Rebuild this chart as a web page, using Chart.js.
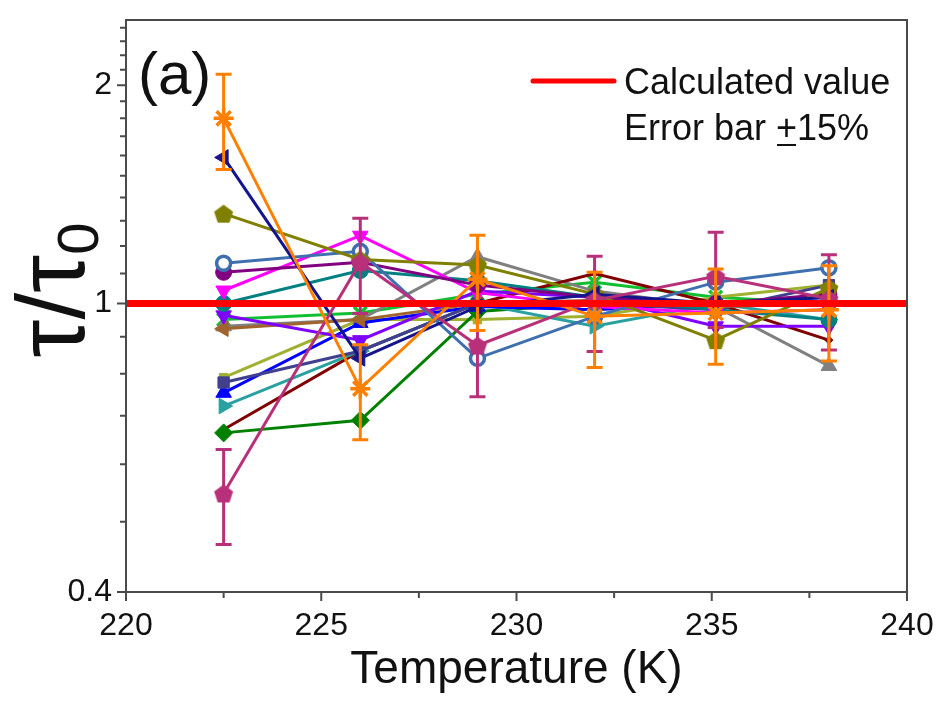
<!DOCTYPE html>
<html lang="en">
<head>
<meta charset="UTF-8">
<title>tau / tau0 vs temperature</title>
<script src="https://cdn.jsdelivr.net/npm/chart.js@4"></script>
<style>
    body { margin: 0; background: #fff; }
    #wrap { width: 936px; height: 701px; position: relative; }
</style>
</head>
<body>
<div id="wrap"><canvas id="chart"></canvas></div>

<script>
// temperatures (K) where the ratios were measured
const temps = [222.5, 226, 229, 232, 235.1, 238];

// tau / tau0 for each sample
const orangeStar   = [1.80, 0.763, 1.08, 0.96, 0.97, 0.98];
const pinkPentagon = [0.547, 1.14, 0.875, 1.01, 1.09, 1.015];
const navyLeft     = [1.59, 0.84, 0.99, 1.03, 1.00, 1.02];
const olivePent    = [1.33, 1.15, 1.13, 1.03, 0.89, 1.05];
const blueOpen     = [1.136, 1.18, 0.84, 0.96, 1.07, 1.12];
const purpleCircle = [1.104, 1.14, 1.06, 1.02, 1.00, 1.03];
const magentaDown  = [1.042, 1.24, 1.035, 0.99, 0.97, 0.98];
const tealCircle   = [1.0, 1.11, 1.075, 1.02, 0.98, 0.95];
const violetDown   = [0.963, 0.89, 1.04, 1.02, 0.93, 0.93];
const brownLeft    = [0.923, 0.95, 1.0, 1.01, 0.99, 1.0];
const slateSquare  = [0.778, 0.86, 1.0, 1.0, 0.98, 1.06];
const blueUp       = [0.753, 0.94, 0.99, 0.98, 1.0, 1.02];
const cyanRight    = [0.722, 0.86, 1.0, 0.93, 1.0, 0.95];
const greenDiamond = [0.663, 0.69, 0.975, 1.0, 1.0, 1.0];
const darkredLine  = [0.67, 0.86, 1.0, 1.10, 1.0, 0.89];
const grayUp       = [0.93, 0.95, 1.16, 1.04, 0.99, 0.82];
const ygreenLine   = [0.79, 0.95, 0.95, 0.96, 1.02, 1.06];
const limeCross    = [0.95, 0.97, 1.03, 1.07, 1.02, 1.0];

const calcLine = [1, 1];
const calcX = [220, 240];

const xTicks = [220, 225, 230, 235, 240];
const yTicks = [0.4, 1, 2];

const FONT = "'Liberation Sans', Arial, sans-serif";

function pentagon(color, r) {
    const c = document.createElement('canvas');
    c.width = c.height = r * 2 + 2;
    const g = c.getContext('2d');
    g.beginPath();
    for (let i = 0; i < 5; i++) {
        const a = -Math.PI / 2 + i * 2 * Math.PI / 5;
        const px = r + 1 + r * Math.cos(a), py = r + 1 + r * Math.sin(a) + 1;
        i ? g.lineTo(px, py) : g.moveTo(px, py);
    }
    g.closePath();
    g.fillStyle = color;
    g.fill();
    return c;
}

function series(vals, color, style, opts) {
    return Object.assign({
        data: temps.map((t, i) => ({ x: t, y: vals[i] })),
        borderColor: color,
        backgroundColor: color,
        pointBackgroundColor: color,
        pointBorderColor: color,
        borderWidth: 3,
        pointRadius: 8,
        pointHoverRadius: 8,
        pointBorderWidth: 1,
        pointStyle: style,
    }, opts || {});
}

const datasets = [
    {
        data: calcX.map((x, i) => ({ x: x, y: calcLine[i] })),
        borderColor: '#ff0000', borderWidth: 7, pointRadius: 0
    },
    series(orangeStar, '#ff8000', 'star', { errorBars: true, pointRadius: 10, pointBorderWidth: 3.5 }),
    series(pinkPentagon, '#b8307a', pentagon('#b8307a', 10), { errorBars: true }),
    series(navyLeft, '#14148c', 'triangle', { rotation: -90, pointRadius: 9 }),
    series(olivePent, '#808000', pentagon('#808000', 10)),
    series(blueOpen, '#3e6fae', 'circle', { pointBackgroundColor: '#ffffff', pointBorderWidth: 3.5, pointRadius: 7 }),
    series(purpleCircle, '#800080', 'circle'),
    series(magentaDown, '#ff00ff', 'triangle', { rotation: 180, pointRadius: 9 }),
    series(tealCircle, '#008080', 'circle'),
    series(violetDown, '#8000ff', 'triangle', { rotation: 180, pointRadius: 9 }),
    series(brownLeft, '#a0642d', 'triangle', { rotation: -90, pointRadius: 9 }),
    series(slateSquare, '#40408f', 'rect', { pointRadius: 8 }),
    series(blueUp, '#0000ff', 'triangle', { pointRadius: 9 }),
    series(cyanRight, '#2aa0a0', 'triangle', { rotation: 90, pointRadius: 9 }),
    series(greenDiamond, '#008000', 'rectRot', { pointRadius: 9 }),
    series(darkredLine, '#800000', 'rectRot', { pointRadius: 4 }),
    series(grayUp, '#808080', 'triangle', { pointRadius: 9 }),
    series(ygreenLine, '#a0b030', 'rect', { pointRadius: 6 }),
    series(limeCross, '#10c030', 'crossRot', { pointRadius: 9, pointBorderWidth: 3.5 }),
];

// error bars (+/-15%), frame, ticks and all annotation text
const decor = {
    id: 'decor',
    afterDatasetDraw(chart, args) {
        const ds = chart.data.datasets[args.index];
        if (!ds.errorBars) return;
        const ctx = chart.ctx, xs = chart.scales.x, ys = chart.scales.y;
        ctx.save();
        ctx.strokeStyle = ds.borderColor;
        ctx.lineWidth = 3;
        ds.data.forEach(p => {
            const x = xs.getPixelForValue(p.x);
            const y1 = ys.getPixelForValue(p.y * 1.15), y2 = ys.getPixelForValue(p.y * 0.85);
            ctx.beginPath();
            ctx.moveTo(x, y1); ctx.lineTo(x, y2);
            ctx.moveTo(x - 8, y1); ctx.lineTo(x + 8, y1);
            ctx.moveTo(x - 8, y2); ctx.lineTo(x + 8, y2);
            ctx.stroke();
        });
        ctx.restore();
    },
    afterDraw(chart) {
        const ctx = chart.ctx, a = chart.chartArea, xs = chart.scales.x, ys = chart.scales.y;
        ctx.save();
        ctx.strokeStyle = '#4a4a4a';
        ctx.lineWidth = 2;
        ctx.strokeRect(a.left, a.top, a.right - a.left, a.bottom - a.top);

        ctx.beginPath();
        for (let v = 220; v <= 240; v += 2.5) {
            const x = xs.getPixelForValue(v);
            ctx.moveTo(x, a.bottom);
            ctx.lineTo(x, a.bottom + (v % 5 === 0 ? 9 : 6));
        }
        const minor = [];
        for (let v = 0.5; v < 1; v += 0.1) minor.push(v);
        for (let v = 1.1; v < 2; v += 0.1) minor.push(v);
        for (let v = 2.1; v < 2.45; v += 0.1) minor.push(v);
        yTicks.forEach(v => {
            const y = ys.getPixelForValue(v);
            ctx.moveTo(a.left, y); ctx.lineTo(a.left - 9, y);
        });
        minor.forEach(v => {
            const y = ys.getPixelForValue(v);
            ctx.moveTo(a.left, y); ctx.lineTo(a.left - 6, y);
        });
        ctx.stroke();

        ctx.fillStyle = '#111';
        // panel label
        ctx.font = '60px ' + FONT;
        ctx.textBaseline = 'alphabetic';
        ctx.textAlign = 'left';
        ctx.fillText('(a)', a.left + 12, 94);

        // legend
        ctx.strokeStyle = '#ff0000';
        ctx.lineWidth = 5;
        ctx.lineCap = 'round';
        ctx.beginPath();
        ctx.moveTo(533, 81); ctx.lineTo(614, 81);
        ctx.stroke();
        ctx.font = '36px ' + FONT;
        ctx.fillText('Calculated value', 624, 94);
        const pre = 'Error bar ';
        ctx.fillText(pre, 624, 140);
        const px = 624 + ctx.measureText(pre).width;
        ctx.fillText('+', px, 140);
        const pw = ctx.measureText('+').width;
        ctx.fillRect(px + 1, 144, pw - 2, 2);
        ctx.fillText('15%', px + pw, 140);

        // x title
        ctx.font = '46px ' + FONT;
        ctx.textAlign = 'center';
        ctx.fillText('Temperature (K)', (a.left + a.right) / 2, 683);

        // y title, rotated, with subscript
        ctx.translate(84, 290);
        ctx.rotate(-Math.PI / 2);
        ctx.textAlign = 'left';
        ctx.font = '96px ' + FONT;
        const main = '\u03c4/\u03c4';
        const mw = ctx.measureText(main).width;
        ctx.font = '58px ' + FONT;
        const sw = ctx.measureText('0').width;
        const x0 = -(mw + sw) / 2;
        ctx.font = '96px ' + FONT;
        ctx.fillText(main, x0, 0);
        ctx.font = '58px ' + FONT;
        ctx.fillText('0', x0 + mw, 14);
        ctx.restore();
    }
};

new Chart(document.getElementById('chart'), {
    type: 'line',
    data: { datasets: datasets },
    plugins: [decor],
    options: {
        responsive: true,
        maintainAspectRatio: false,
        animation: false,
        layout: { padding: { top: 20, right: 29, left: 0, bottom: 0 } },
        plugins: { legend: { display: false }, tooltip: { enabled: false } },
        scales: {
            x: {
                type: 'linear',
                min: 220, max: 240,
                afterBuildTicks: s => { s.ticks = xTicks.map(v => ({ value: v })); },
                afterFit: s => { s.height = 109; s.paddingLeft = 0; s.paddingRight = 0; },
                grid: { display: false, drawTicks: false },
                border: { display: false },
                ticks: { color: '#111', font: { size: 32, family: FONT }, padding: 15, maxRotation: 0 }
            },
            y: {
                type: 'logarithmic',
                min: 0.4, max: 2.46,
                afterBuildTicks: s => { s.ticks = yTicks.map(v => ({ value: v })); },
                afterFit: s => { s.width = 126; s.paddingTop = 0; s.paddingBottom = 0; },
                grid: { display: false, drawTicks: false },
                border: { display: false },
                ticks: { color: '#111', font: { size: 32, family: FONT }, padding: 14, callback: v => String(v) }
            }
        }
    }
});
</script>
</body>
</html>
